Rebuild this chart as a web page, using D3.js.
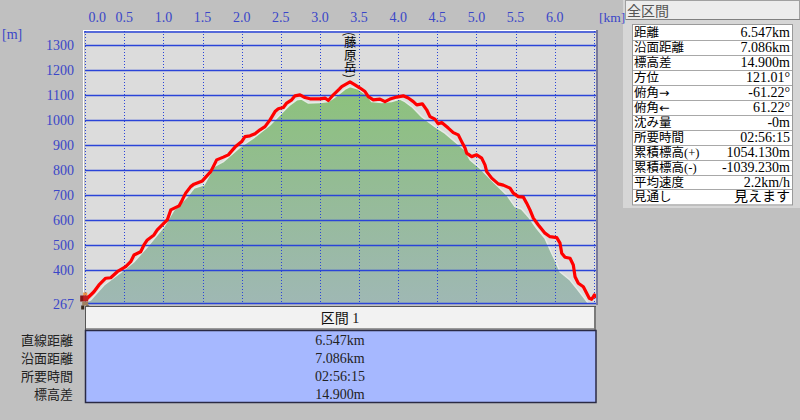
<!DOCTYPE html>
<html><head><meta charset="utf-8">
<script src="https://cdn.jsdelivr.net/npm/d3@7"></script>
<style>html,body{margin:0;padding:0;background:#c0c0c0;overflow:hidden}svg{display:block}</style>
</head><body><svg id="c" width="800" height="420"></svg>
<script>
const xTickValues = [0,0.5,1,1.5,2,2.5,3,3.5,4,4.5,5,5.5,6];
const xTickLabels = ["0.0","0.5","1.0","1.5","2.0","2.5","3.0","3.5","4.0","4.5","5.0","5.5","6.0"];
const xGridValues = [0,0.5,1,1.5,2,2.5,3,3.5,4,4.5,5,5.5,6,6.5];
const yTickValues = [267,400,500,600,700,800,900,1000,1100,1200,1300];
const yTickLabels = ["267","400","500","600","700","800","900","1000","1100","1200","1300"];
const yGridValues = [400,500,600,700,800,900,1000,1100,1200,1300];

const trackDist = [0.0,0.027,0.112,0.176,0.262,0.326,0.410,0.518,0.581,0.624,0.709,0.751,0.794,0.879,0.921,0.985,1.049,1.093,1.199,1.241,1.284,1.348,1.390,1.497,1.604,1.637,1.680,1.765,1.829,1.914,2.000,2.042,2.106,2.170,2.234,2.298,2.362,2.426,2.468,2.532,2.575,2.639,2.681,2.745,2.809,2.873,3.001,3.065,3.107,3.171,3.247,3.278,3.384,3.448,3.512,3.576,3.618,3.682,3.767,3.831,3.895,3.981,4.065,4.129,4.193,4.237,4.308,4.364,4.406,4.470,4.512,4.556,4.640,4.704,4.768,4.811,4.854,4.875,4.939,5.003,5.067,5.109,5.131,5.195,5.279,5.343,5.429,5.471,5.535,5.599,5.642,5.684,5.727,5.791,5.876,5.940,6.026,6.068,6.090,6.132,6.196,6.238,6.260,6.302,6.366,6.409,6.442,6.473,6.506,6.537];
const trackElev = [284,288,314,341,368,370,394,414,434,461,474,501,521,541,561,581,601,641,657,681,708,734,744,757,794,814,841,852,861,892,914,934,937,945,961,974,1001,1034,1045,1050,1068,1081,1097,1101,1090,1085,1085,1088,1078,1101,1124,1134,1153,1141,1128,1114,1094,1081,1084,1074,1084,1092,1097,1088,1074,1061,1065,1041,1014,1004,985,990,968,950,941,914,888,868,854,861,848,821,794,768,745,740,728,708,694,692,668,641,608,581,548,534,530,508,468,452,448,421,374,348,334,308,288,284,301,292];

const terrainDist = [0.0,0.070,0.240,0.410,0.496,0.624,0.794,1.007,1.135,1.305,1.390,1.518,1.646,1.765,1.978,2.148,2.362,2.511,2.617,2.703,2.767,2.851,3.001,3.107,3.171,3.256,3.320,3.384,3.490,3.597,3.661,3.789,3.917,4.023,4.087,4.173,4.300,4.470,4.598,4.726,4.854,4.918,5.045,5.215,5.387,5.493,5.578,5.663,5.770,5.876,5.962,6.004,6.068,6.196,6.281,6.366,6.429];
const terrainElev = [272,281,341,381,401,434,494,574,641,694,728,741,814,834,892,928,981,1028,1061,1081,1084,1068,1070,1074,1088,1108,1124,1134,1124,1101,1074,1070,1074,1084,1074,1054,1014,974,948,914,881,841,808,754,701,654,644,614,568,528,468,441,394,361,328,294,268];

const peakName = "(藤原岳)";
const peakDist = 3.40;

const summaryTitle = "全区間";
const summaryLabels = ["距離","沿面距離","標高差","方位","俯角→","俯角←","沈み量","所要時間","累積標高(+)","累積標高(-)","平均速度","見通し"];
const summaryValues = ["6.547km","7.086km","14.900m","121.01°","-61.22°","61.22°","-0m","02:56:15","1054.130m","-1039.230m","2.2km/h","見えます"];

const sectionTitle = "区間 1";
const sectionLabels = ["直線距離","沿面距離","所要時間","標高差"];
const sectionValues = ["6.547km","7.086km","02:56:15","14.900m"];

const svg = d3.select("#c");
const NUMF = "'Liberation Serif','Noto Sans CJK JP',serif";
const JPF = "'Noto Sans CJK JP',sans-serif";
const ARF = "'DejaVu Sans',sans-serif";
const BLUE = "#3a46c8";
const GRID = "#2a44d8";

const x = d3.scaleLinear().domain([0, 6.547]).range([85.2, 597.5]);
const y = d3.scaleLinear().domain([267, 1356]).range([303.5, 31]);

const PL = 85, PR = 596, PT = 31, PB = 303.5;

const defs = svg.append("defs");
const grad = defs.append("linearGradient").attr("id","tg").attr("gradientUnits","userSpaceOnUse")
  .attr("x1",0).attr("x2",0).attr("y1",y(1150)).attr("y2",y(267));
grad.append("stop").attr("offset",0).attr("stop-color","#8cc27a");
grad.append("stop").attr("offset",0.45).attr("stop-color","#94bc94");
grad.append("stop").attr("offset",1).attr("stop-color","#9fb8b4");
defs.append("clipPath").attr("id","pc").append("rect").attr("x",PL).attr("y",PT).attr("width",PR-PL).attr("height",PB-PT);

svg.append("rect").attr("x",PL).attr("y",PT).attr("width",PR-PL).attr("height",PB-PT).attr("fill","#dcdcdc");

const plot = svg.append("g").attr("clip-path","url(#pc)");

const terr = terrainDist.map((d,i)=>[d, terrainElev[i]]);
plot.append("path").datum(terr)
  .attr("d", d3.area().x(d=>x(d[0])).y0(y(267)).y1(d=>y(d[1])))
  .attr("fill","url(#tg)");
plot.append("path").datum(terr)
  .attr("d", d3.line().x(d=>x(d[0])).y(d=>y(d[1])))
  .attr("fill","none").attr("stroke","#e6ebe6").attr("stroke-width",1.5);

plot.selectAll(".hg").data(yGridValues).join("line")
  .attr("x1",PL).attr("x2",PR).attr("y1",d=>Math.round(y(d))+0.5).attr("y2",d=>Math.round(y(d))+0.5)
  .attr("stroke",GRID).attr("stroke-width",1.6);
plot.selectAll(".vg").data(xGridValues).join("line")
  .attr("x1",d=>Math.round(x(d))+0.5).attr("x2",d=>Math.round(x(d))+0.5).attr("y1",PT).attr("y2",PB)
  .attr("stroke",GRID).attr("stroke-width",1).attr("stroke-dasharray","1,2");

const track = trackDist.map((d,i)=>[d, trackElev[i]]);
plot.append("path").datum(track)
  .attr("d", d3.line().x(d=>x(d[0])).y(d=>y(d[1])))
  .attr("fill","none").attr("stroke","#ff0000").attr("stroke-width",3.2).attr("stroke-linejoin","round");

svg.append("line").attr("x1",83).attr("x2",598).attr("y1",30.5).attr("y2",30.5).attr("stroke","#ffffff");
svg.append("line").attr("x1",84).attr("x2",597).attr("y1",32).attr("y2",32).attr("stroke",GRID).attr("stroke-width",1.6);
svg.append("line").attr("x1",83.5).attr("x2",83.5).attr("y1",30).attr("y2",304).attr("stroke","#ffffff");
svg.append("line").attr("x1",84).attr("x2",597).attr("y1",303.5).attr("y2",303.5).attr("stroke",GRID).attr("stroke-width",1.6);
svg.append("line").attr("x1",597).attr("x2",597).attr("y1",30).attr("y2",305).attr("stroke","#7a7a9a").attr("stroke-width",2);

svg.selectAll(".xl").data(xTickValues).join("text")
  .attr("x",(d,i)=> i===0 ? x(d)+12 : x(d)).attr("y",22)
  .attr("text-anchor","middle").attr("font-family",NUMF).attr("font-size",14).attr("fill",BLUE)
  .text((d,i)=>xTickLabels[i]);
svg.selectAll(".yl").data(yTickValues).join("text")
  .attr("x",74).attr("y",d=>y(d)+5)
  .attr("text-anchor","end").attr("font-family",NUMF).attr("font-size",14).attr("fill",BLUE)
  .text((d,i)=>yTickLabels[i]);
svg.append("text").attr("x",2).attr("y",39).attr("font-family",NUMF).attr("font-size",14).attr("fill",BLUE).text("[m]");

svg.append("text").attr("x",x(peakDist)-1).attr("y",32)
  .attr("writing-mode","vertical-rl").attr("font-family",JPF).attr("font-size",12.5).attr("fill","#000")
  .text(peakName);

const hk = svg.append("g").attr("transform",`translate(${x(0)-5},${y(267)-10})`);
hk.append("rect").attr("x",3).attr("y",-1).attr("width",4).attr("height",3).attr("fill","#e89040");
hk.append("rect").attr("x",0).attr("y",2).attr("width",4).attr("height",6).attr("fill","#801818");
hk.append("rect").attr("x",3).attr("y",2).attr("width",5).attr("height",6).attr("fill","#c02020");
hk.append("rect").attr("x",2).attr("y",8).attr("width",6).attr("height",4).attr("fill","#a08060");
hk.append("rect").attr("x",1).attr("y",12).attr("width",3).attr("height",4).attr("fill","#3a2a1a");
hk.append("rect").attr("x",6).attr("y",12).attr("width",3).attr("height",4).attr("fill","#3a2a1a");

svg.append("rect").attr("x",85.5).attr("y",306.5).attr("width",510).attr("height",23).attr("fill","#f2f2f2").attr("stroke","#555").attr("stroke-width",1);
svg.append("line").attr("x1",86).attr("x2",595).attr("y1",329).attr("y2",329).attr("stroke","#9a9a9a").attr("stroke-width",2);
svg.append("line").attr("x1",595).attr("x2",595).attr("y1",307).attr("y2",330).attr("stroke","#7a7a7a").attr("stroke-width",2);
svg.append("rect").attr("x",85.5).attr("y",330.5).attr("width",510.5).attr("height",72).attr("fill","#a6b8ff").attr("stroke","#2a2a44").attr("stroke-width",1.5);
svg.append("text").attr("x",340).attr("y",323).attr("text-anchor","middle").attr("font-family",NUMF).attr("font-size",14).attr("fill","#111").text(sectionTitle);
const rowY = d3.scaleLinear().domain([0,3]).range([340,394]);
svg.selectAll(".sl").data(sectionLabels).join("text")
  .attr("x",73).attr("y",(d,i)=>rowY(i)+5).attr("text-anchor","end")
  .attr("font-family",JPF).attr("font-size",13).attr("fill","#222").text(d=>d);
svg.selectAll(".sv").data(sectionValues).join("text")
  .attr("x",340).attr("y",(d,i)=>rowY(i)+5).attr("text-anchor","middle")
  .attr("font-family",NUMF).attr("font-size",14).attr("fill","#222").text(d=>d);

svg.append("rect").attr("x",623).attr("y",0).attr("width",177).attr("height",208).attr("fill","#d6d6d6");
svg.append("rect").attr("x",625.5).attr("y",0.5).attr("width",174).attr("height",19).attr("fill","#ececec").attr("stroke","#a0a0a0");
svg.append("line").attr("x1",626).attr("x2",800).attr("y1",19.5).attr("y2",19.5).attr("stroke","#808080");
svg.append("text").attr("x",627).attr("y",16).attr("font-family",JPF).attr("font-size",14).attr("fill","#555").text(summaryTitle);
const rh = 14.95, rt = 25;
svg.append("rect").attr("x",632.5).attr("y",rt-0.5).attr("width",160).attr("height",rh*12+1).attr("fill","#ffffff").attr("stroke","#9a9a9a");
svg.selectAll(".rl").data(d3.range(1,12)).join("line")
  .attr("x1",633).attr("x2",792).attr("y1",d=>Math.round(rt+d*rh)+0.5).attr("y2",d=>Math.round(rt+d*rh)+0.5)
  .attr("stroke","#a8a8a8");
svg.selectAll(".tl").data(summaryLabels).join("text")
  .attr("x",634).attr("y",(d,i)=>rt+i*rh+12).attr("font-family",NUMF).attr("font-size",12.5).attr("fill","#000")
  .each(function(d){
    const t = d3.select(this);
    Array.from(d).forEach(ch=>{
      const sp = t.append("tspan").text(ch);
      if (ch === "→" || ch === "←") sp.attr("font-family", ARF);
    });
  });
svg.selectAll(".tv").data(summaryValues).join("text")
  .attr("x",790).attr("y",(d,i)=>rt+i*rh+12).attr("text-anchor","end").attr("font-family",NUMF).attr("font-size",14).attr("fill","#000").text(d=>d);

svg.append("text").attr("x",599).attr("y",22).attr("font-family",NUMF).attr("font-size",13.5).attr("fill",BLUE).text("[km]");
</script></body></html>
